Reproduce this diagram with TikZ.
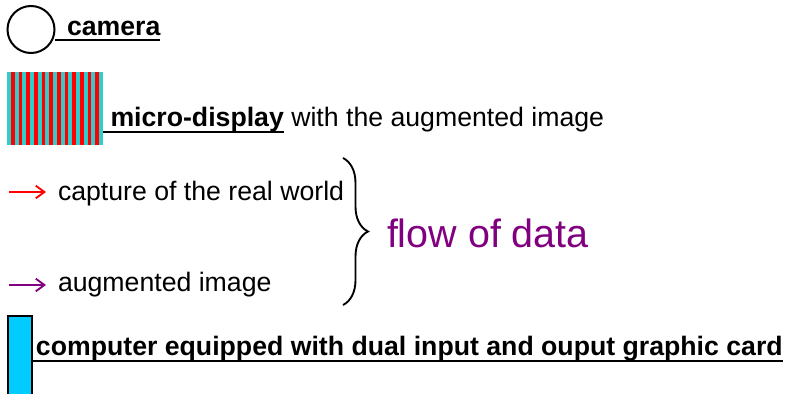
\documentclass[tikz,border=0pt]{standalone}
\usepackage{fontspec}
\setmainfont{Liberation Sans}
\usetikzlibrary{arrows.meta,decorations.pathreplacing}
\definecolor{stripecyan}{HTML}{33CCCC}
\definecolor{stripered}{HTML}{FF0000}
\definecolor{compcyan}{HTML}{00CCFF}
\definecolor{flowpurple}{HTML}{800080}
\begin{document}
\begin{tikzpicture}[x=0.75pt,y=-0.75pt,
  lbl/.style={inner sep=0pt,outer sep=0pt,anchor=base west,font=\fontsize{20}{24}\selectfont},
  blbl/.style={lbl,font=\fontsize{20}{24}\selectfont\bfseries},
  uline/.style={line width=1.6pt},
  legarrow/.style={line width=1.4pt,-{Straight Barb[length=6.5pt,width=9.5pt]}},
  shapeline/.style={line width=1.5pt}]
\useasboundingbox (0,0) rectangle (786,393);
\clip (0,0) rectangle (786,393);
% camera
\node[draw,circle,shapeline,inner sep=0pt,outer sep=0pt,minimum size=35.25pt] (cam) at (31,29.5) {};
\node[blbl] (camtext) at (67,35.5) {camera};
\draw[uline] (cam.east |- 0,39.7) -- (camtext.base east |- 0,39.7);
% micro-display
\node[inner sep=0pt,outer sep=0pt,anchor=north west,minimum width=72pt,minimum height=54.75pt,fill=stripecyan] (md) at (7,72) {};
\foreach \i in {0,...,11} {
  \fill[stripered] ({11+\i*7.667},72) rectangle ++(3.667,73);
}
\node[blbl] (mdtext) at (110.5,126) {micro-display};
\node[lbl] (mdrest) at (mdtext.base east) {\hspace{0.278em}with the augmented image};
\draw[uline] (md.east |- 0,132) -- (mdtext.base east |- 0,132);
% legend arrows
\coordinate (ra1) at (9,192);
\coordinate (ra2) at (46,192);
\draw[legarrow,red] (ra1) -- (ra2);
\node[lbl] (cap) at (58,200.7) {capture of the real world};
\coordinate (pa1) at (9,285);
\coordinate (pa2) at (46,285);
\draw[legarrow,flowpurple] (pa1) -- (pa2);
\node[lbl] (aug) at (58,291.7) {augmented image};
% brace
\coordinate (bt) at (343,158);
\coordinate (bb) at (343,305);
\draw[line width=1.4pt,decorate,decoration={brace,amplitude=18.75pt}] (bt) -- (bb);
\node[lbl,font=\fontsize{29.6}{35}\selectfont,text=flowpurple] (flow) at (387,247) {flow of data};
% computer
\node[draw,fill=compcyan,shapeline,inner sep=0pt,outer sep=0pt,anchor=north west,minimum width=17.55pt,minimum height=90pt] (pc) at (8.3,316) {};
\node[blbl] (pctext) at (36,355) {computer equipped with dual input and ouput graphic card};
\draw[uline] (pc.east |- 0,361) -- (pctext.base east |- 0,361);
\end{tikzpicture}
\end{document}
